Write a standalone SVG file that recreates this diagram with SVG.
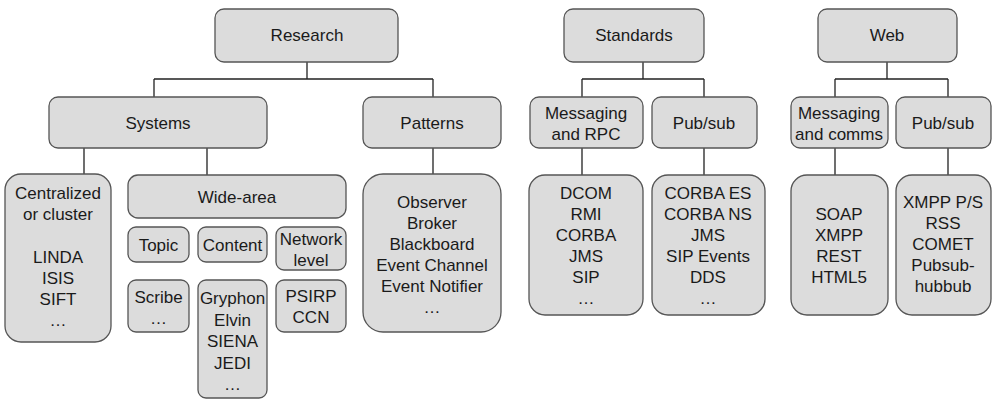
<svg xmlns="http://www.w3.org/2000/svg" width="992" height="399" viewBox="0 0 992 399">
<style>
rect{fill:#dcdcdc;stroke:#555;stroke-width:1.3}
text{font-family:"Liberation Sans",Arial,sans-serif;font-size:17px;fill:#1a1a1a;text-anchor:middle}
.c path{fill:none;stroke:#222;stroke-width:1.3}
</style>
<rect x="0" y="0" width="992" height="399" style="fill:#fff;stroke:none"/>
<g class="c" id="connectors">
<path d="M307 62V79M154 79H433M154 79V97M433 79V97"/>
<path d="M84 148V174M207 148V175M433 148V174"/>
<path d="M643 62V79M582 79H704M582 79V97M704 79V97"/>
<path d="M582 148V175M704 148V175"/>
<path d="M887 62V79M835 79H948M835 79V97M948 79V97"/>
<path d="M835 148V175M948 148V175"/>
</g>
<g id="research"><rect x="215" y="9" width="183" height="53" rx="9"/><text x="307" y="41">Research</text></g>
<g id="standards"><rect x="564" y="9" width="140" height="53" rx="9"/><text x="634" y="41">Standards</text></g>
<g id="web"><rect x="818" y="9" width="139" height="53" rx="9"/><text x="887" y="41">Web</text></g>
<g id="systems"><rect x="49" y="97" width="218" height="51" rx="9"/><text x="158" y="129">Systems</text></g>
<g id="patterns"><rect x="363" y="97" width="138" height="51" rx="9"/><text x="432" y="129">Patterns</text></g>
<g id="msg-rpc"><rect x="530" y="97" width="113" height="51" rx="9"/><text x="586" y="119">Messaging</text><text x="586" y="140">and RPC</text></g>
<g id="pubsub-std"><rect x="652" y="97" width="105" height="51" rx="9"/><text x="704" y="129">Pub/sub</text></g>
<g id="msg-comms"><rect x="791" y="97" width="97" height="51" rx="9"/><text x="839" y="119">Messaging</text><text x="839" y="140">and comms</text></g>
<g id="pubsub-web"><rect x="896" y="97" width="95" height="51" rx="9"/><text x="943" y="129">Pub/sub</text></g>
<g id="centralized"><rect x="5" y="174" width="106" height="168" rx="16"/>
<text x="58" y="199">Centralized</text><text x="58" y="220">or cluster</text><text x="58" y="263">LINDA</text><text x="58" y="284">ISIS</text><text x="58" y="305">SIFT</text><text x="58" y="326">…</text></g>
<g id="wide-area"><rect x="128" y="175" width="218" height="43" rx="10"/><text x="237" y="203">Wide-area</text></g>
<g id="topic"><rect x="128" y="227" width="61" height="35" rx="8"/><text x="158.5" y="251">Topic</text></g>
<g id="content"><rect x="198" y="227" width="69" height="35" rx="8"/><text x="232.5" y="251">Content</text></g>
<g id="network"><rect x="276" y="227" width="70" height="43" rx="8"/><text x="311" y="245">Network</text><text x="311" y="266">level</text></g>
<g id="scribe"><rect x="128" y="280" width="61" height="52" rx="8"/><text x="158.5" y="303">Scribe</text><text x="158.5" y="324">…</text></g>
<g id="gryphon"><rect x="198" y="280" width="69" height="118" rx="8"/><text x="232.5" y="304">Gryphon</text><text x="232.5" y="326">Elvin</text><text x="232.5" y="347">SIENA</text><text x="232.5" y="369">JEDI</text><text x="232.5" y="390">…</text></g>
<g id="psirp"><rect x="276" y="280" width="70" height="52" rx="8"/><text x="311" y="302">PSIRP</text><text x="311" y="323">CCN</text></g>
<g id="patterns-list"><rect x="363" y="174" width="138" height="158" rx="20"/>
<text x="432" y="208">Observer</text><text x="432" y="229">Broker</text><text x="432" y="250">Blackboard</text><text x="432" y="271">Event Channel</text><text x="432" y="292">Event Notifier</text><text x="432" y="313">…</text></g>
<g id="rpc-list"><rect x="529" y="175" width="114" height="140" rx="16"/>
<text x="586" y="199">DCOM</text><text x="586" y="220">RMI</text><text x="586" y="241">CORBA</text><text x="586" y="262">JMS</text><text x="586" y="283">SIP</text><text x="586" y="304">…</text></g>
<g id="pubsub-std-list"><rect x="652" y="175" width="113" height="140" rx="16"/>
<text x="708" y="199">CORBA ES</text><text x="708" y="220">CORBA NS</text><text x="708" y="241">JMS</text><text x="708" y="262">SIP Events</text><text x="708" y="283">DDS</text><text x="708" y="304">…</text></g>
<g id="comms-list"><rect x="791" y="175" width="97" height="140" rx="16"/>
<text x="839" y="220">SOAP</text><text x="839" y="241">XMPP</text><text x="839" y="262">REST</text><text x="839" y="283">HTML5</text></g>
<g id="pubsub-web-list"><rect x="896" y="175" width="95" height="140" rx="16"/>
<text x="943" y="208">XMPP P/S</text><text x="943" y="229">RSS</text><text x="943" y="250">COMET</text><text x="943" y="271">Pubsub-</text><text x="943" y="292">hubbub</text></g>
</svg>
